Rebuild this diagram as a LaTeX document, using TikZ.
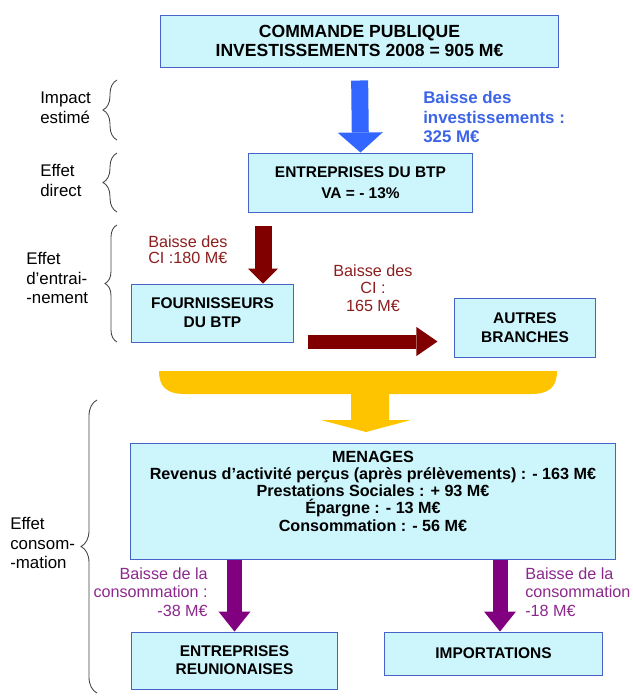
\documentclass[tikz,border=0pt]{standalone}
\usepackage{fontspec}
\setmainfont{Liberation Sans}
\usepackage{tikz}
\usetikzlibrary{arrows.meta,decorations.pathreplacing}
\definecolor{boxfill}{RGB}{204,246,252}
\definecolor{boxline}{RGB}{70,100,200}
\definecolor{arrblue}{RGB}{51,102,255}
\definecolor{txtblue}{RGB}{60,100,230}
\definecolor{arrred}{RGB}{128,0,0}
\definecolor{txtred}{RGB}{140,30,30}
\definecolor{arrpur}{RGB}{128,0,128}
\definecolor{txtpur}{RGB}{140,40,140}
\definecolor{arryel}{RGB}{255,196,0}

\begin{document}
\begin{tikzpicture}[x=0.025cm,y=-0.025cm,
   bx/.style={draw=boxline,fill=boxfill,line width=0.7pt,align=center,inner sep=0pt,
     font=\bfseries\fontsize{11}{13.5}\selectfont},
   lb/.style={anchor=west,align=left,inner sep=0pt,font=\fontsize{12}{14.2}\selectfont},
   br/.style={decorate,decoration={brace,amplitude=#1},draw=black!75,line width=0.6pt},
   bl/.style={line width=0.425cm,arrblue,-{Triangle[width=1.125cm,length=0.5cm,line width=0pt]}},
   rd/.style={line width=0.425cm,arrred,-{Triangle[width=0.75cm,length=0.375cm,line width=0pt]}},
   rh/.style={line width=0.35cm,arrred,-{Triangle[width=0.725cm,length=0.525cm,line width=0pt]}},
   pu/.style={line width=0.375cm,arrpur,-{Triangle[width=0.8cm,length=0.5cm,line width=0pt]}}]
  \useasboundingbox (0,0) rectangle (632,697);

  \node[bx,minimum width=9.925cm,minimum height=1.3cm,font=\bfseries\fontsize{12.5}{13}\selectfont]
    (cmd) at (359.5,41) {COMMANDE PUBLIQUE\\INVESTISSEMENTS 2008 = 905 M€};
  \node[bx,minimum width=5.575cm,minimum height=1.475cm,font=\bfseries\fontsize{11}{15}\selectfont]
    (btp) at (360.5,182.5) {ENTREPRISES DU BTP\\VA = - 13\%};
  \node[bx,minimum width=4.025cm,minimum height=1.45cm] (fourn) at (212.5,313) {FOURNISSEURS\\DU BTP};
  \node[bx,minimum width=3.5cm,minimum height=1.475cm] (autres) at (525,327.5) {AUTRES\\BRANCHES};
  \node[bx,minimum width=12.1cm,minimum height=2.875cm,text depth=15pt,
    font=\bfseries\fontsize{11.5}{12.3}\selectfont]
    (men) at (373,501.5) {MENAGES\\Revenus d'activité perçus (après prélèvements) : - 163 M€\\
    Prestations Sociales : + 93 M€\\Épargne : - 13 M€\\Consommation : - 56 M€};
  \node[bx,minimum width=5.125cm,minimum height=1.425cm,font=\bfseries\fontsize{11}{12.8}\selectfont]
    (reun) at (234.5,660.5) {ENTREPRISES\\REUNIONAISES};
  \node[bx,minimum width=5.425cm,minimum height=1.075cm] (imp) at (493.5,653.5) {IMPORTATIONS};

  \node[lb] (l1) at (40,107.5) {Impact\\estimé};
  \node[lb] (l2) at (40,180) {Effet\\direct};
  \node[lb] (l3) at (26,278) {Effet\\d'entrai-\\-nement};
  \node[lb] (l4) at (10,543) {Effet\\consom-\\-mation};
  \draw[br=0.35cm] (117,140) -- (117,80);
  \draw[br=0.35cm] (117,212) -- (117,153);
  \draw[br=0.3cm] (117,342) -- (117,225);
  \draw[br=0.4cm] (97,693) -- (97,400);

  \node[anchor=west,align=left,inner sep=0pt,txtblue,font=\bfseries\fontsize{12}{14.2}\selectfont]
    (tb) at (423,117) {Baisse des\\investissements :\\325 M€};
  \node[anchor=west,align=left,inner sep=0pt,txtred,font=\fontsize{11.5}{11.5}\selectfont]
    (tr1) at (148,250) {Baisse des\\CI :180 M€};
  \node[align=center,inner sep=0pt,txtred,font=\fontsize{11.5}{12.4}\selectfont]
    (tr2) at (373,288) {Baisse des\\CI :\\165 M€};
  \node[anchor=east,align=right,inner sep=0pt,txtpur,font=\fontsize{11.5}{13}\selectfont]
    (tp1) at (208,592) {Baisse de la\\consommation :\\-38 M€};
  \node[anchor=west,align=left,inner sep=0pt,txtpur,font=\fontsize{11.5}{13}\selectfont]
    (tp2) at (525,592) {Baisse de la\\consommation\\-18 M€};

  \draw[bl,shorten <=0.325cm] (cmd.south) -- (btp.north);
  \coordinate (x1) at (263,0);
  \draw[rd,shorten <=0.325cm] (btp.south -| x1) -- (fourn.north -| x1);
  \coordinate (y1) at (0,341.5);
  \draw[rh,shorten <=0.35cm,shorten >=0.425cm] (fourn.east |- y1) -- (autres.west |- y1);
  \fill[arryel] (159,371) -- (557,371) .. controls (557,388) and (548,394) .. (531,394) -- (389,394)
    -- (389,420) -- (411,420) -- (366,432) -- (321,420) -- (351,420) -- (351,394) -- (185,394)
    .. controls (168,394) and (159,388) .. (159,371) -- cycle;
  \draw[pu] (men.south -| reun.north) -- (reun.north);
  \coordinate (x2) at (500,0);
  \draw[pu] (men.south -| x2) -- (imp.north -| x2);
\end{tikzpicture}
\end{document}
